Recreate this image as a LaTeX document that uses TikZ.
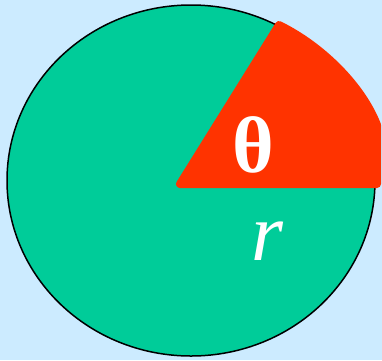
\documentclass[tikz,border=0pt]{standalone}
\usepackage{fontspec}
\setmainfont{Liberation Serif}
\usetikzlibrary{shapes.geometric}
\definecolor{bgblue}{HTML}{CCEBFF}
\definecolor{disk}{HTML}{00CC99}
\definecolor{sector}{HTML}{FF3300}
\begin{document}
\begin{tikzpicture}[x=1pt,y=-1pt,
  disc/.style={fill=disk,draw=black,line width=1.5pt},
  wedge/.style={fill=sector,draw=sector,line width=8pt,line join=round},
  lbl/.style={text=white,inner sep=0pt,anchor=center}]
\fill[bgblue] (0,0) rectangle (382,360);
\useasboundingbox (0,0) rectangle (382,360);
\node[disc,ellipse,minimum width=368pt,minimum height=351pt,inner sep=0pt] (c) at (191,180.5) {};
\coordinate (o) at (180,184);
\coordinate (t) at (279,25);
\coordinate (e) at (377,125);
\coordinate (b) at (377,184);
\draw[wedge] (o) -- (t) .. controls (322,46) and (362,86) .. (e) -- (b) -- cycle;
\node[lbl,font=\fontsize{80}{80}\selectfont\bfseries] (th) at (253,145) {θ};
\node[lbl,font=\fontsize{82}{82}\selectfont\itshape] (r) at (267,241) {r};
\end{tikzpicture}
\end{document}
